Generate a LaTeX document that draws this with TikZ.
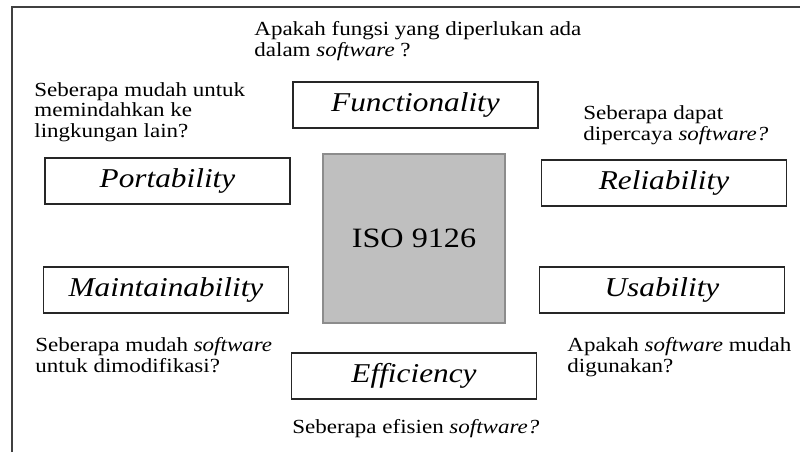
\documentclass[tikz,border=0pt]{standalone}
\usepackage{fontspec}
\setmainfont{Liberation Serif}[FakeStretch=1.15]
\tikzset{
  quality/.style={draw=black!85, line width=0.75pt, minimum width=122.5pt, minimum height=23pt, inner sep=0pt, font=\fontsize{13.6}{15}\selectfont\itshape},
  standard/.style={draw=black!45, fill=black!25, line width=0.6pt, minimum width=91pt, minimum height=84.5pt, inner sep=0pt, font=\fontsize{14}{16}\selectfont},
  question/.style={align=left, inner sep=0pt, anchor=base west, font=\fontsize{10}{10.2}\selectfont},
}
\begin{document}
\begin{tikzpicture}[x=0.5pt,y=-0.5pt]
  \useasboundingbox (0,0) rectangle (800,452);
  % outer frame
  \draw[black!75,line width=0.6pt] (12,452) -- (12,7) -- (800,7);
  % centre block
  \node[standard] (iso) at (414,238.5) {ISO 9126};
  % characteristics
  \node[quality] (func) at (415.5,105) {Functionality};
  \node[quality] (port) at (167.5,181) {Portability};
  \node[quality] (rel) at (664,183) {Reliability};
  \node[quality] (maint) at (166,290) {Maintainability};
  \node[quality] (usab) at (662,290) {Usability};
  \node[quality] (eff) at (414,376) {Efficiency};
  % questions (placed at the baseline of their last line)
  \node[question] (qfunc) at (254,56) {Apakah fungsi yang diperlukan ada\\dalam \textit{software} ?};
  \node[question] (qport) at (34,137) {Seberapa mudah untuk\\memindahkan ke\\lingkungan lain?};
  \node[question] (qrel) at (583,140) {Seberapa dapat\\dipercaya \textit{software?}};
  \node[question] (qmaint) at (35,372) {Seberapa mudah \textit{software}\\untuk dimodifikasi?};
  \node[question] (qusab) at (567,372) {Apakah \textit{software} mudah\\digunakan?};
  \node[question] (qeff) at (292,433) {Seberapa efisien \textit{software?}};
\end{tikzpicture}
\end{document}
